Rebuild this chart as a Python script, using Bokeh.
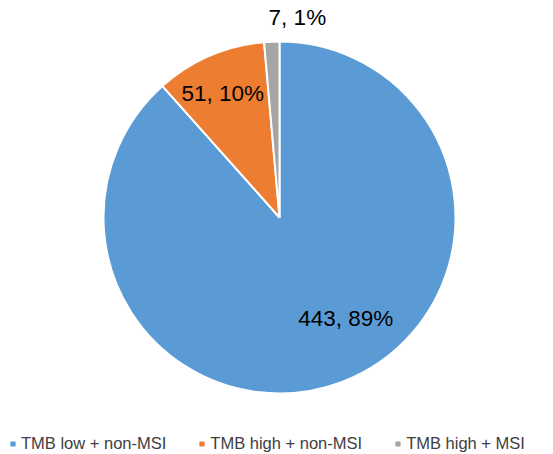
import math
from bokeh.plotting import figure
from bokeh.models import ColumnDataSource, Range1d, Legend, LegendItem
from bokeh.core.properties import value
from bokeh.embed import file_html
from bokeh.resources import INLINE

categories = ["TMB low + non-MSI", "TMB high + non-MSI", "TMB high + MSI"]
counts = [443, 51, 7]
percents = ["89%", "10%", "1%"]
colors = ["#5B9BD5", "#ED7D31", "#A5A5A5"]

# label placement (layout): clockwise angle from 12 o'clock in degrees, distance from centre in px
label_angle = [146.8, 335.3, 5.1]
label_dist = [121, 136, 201]

W, H = 553, 454
cx, cy, r = 279, 454 - 217, 176

total = sum(counts)
starts, ends = [], []
acc = 0.0
for c in counts:
    a0 = math.pi / 2 - 2 * math.pi * acc / total
    acc += c
    a1 = math.pi / 2 - 2 * math.pi * acc / total
    starts.append(a0)
    ends.append(a1)

src = ColumnDataSource(dict(start=starts, end=ends, color=colors, cat=categories))

p = figure(width=W, height=H, output_backend="svg", toolbar_location=None,
           x_range=Range1d(0, W), y_range=Range1d(0, H), min_border=0)
p.axis.visible = False
p.grid.visible = False
p.outline_line_color = None

wr = p.wedge(x=cx, y=cy, radius=r, start_angle="start", end_angle="end", direction="clock",
             fill_color="color", line_color="white", line_width=2, source=src)

lx, ly, lt = [], [], []
for i in range(len(counts)):
    a = math.radians(label_angle[i])
    lx.append(cx + label_dist[i] * math.sin(a))
    ly.append(cy + label_dist[i] * math.cos(a))
    lt.append(f"{counts[i]}, {percents[i]}")
p.text(x=lx, y=ly, text=lt, text_align="center", text_baseline="middle",
       text_font=value("Liberation Sans"), text_font_size="22.5px", text_color="#000000")

items = [LegendItem(label=categories[i], renderers=[wr], index=i) for i in range(len(categories))]
legend = Legend(items=items, orientation="horizontal", location=(8, 1),
                glyph_width=9, glyph_height=9, label_standoff=4, spacing=31,
                padding=0, margin=0, border_line_color=None, background_fill_alpha=0,
                label_text_font="Liberation Sans", label_text_font_size="16.5px",
                label_text_color="#404040", label_height=18)
p.add_layout(legend, "center")

open("out.html", "w").write(file_html(p, INLINE))
